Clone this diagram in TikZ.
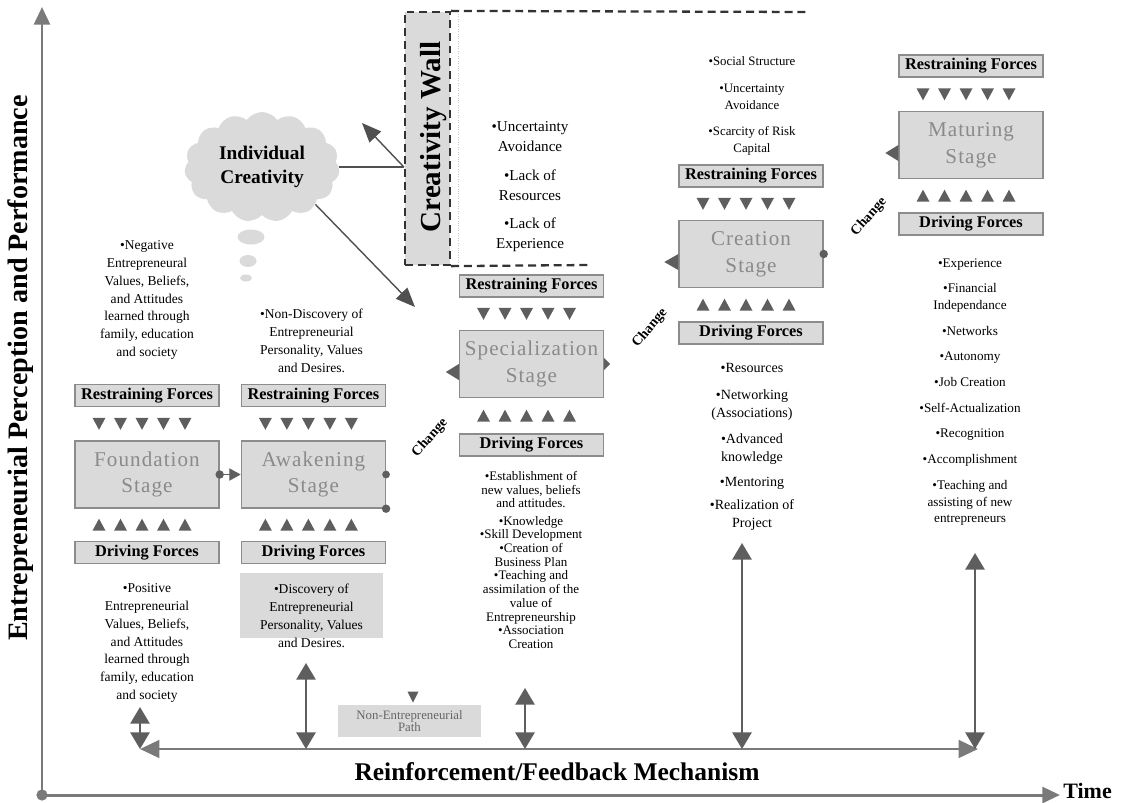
\documentclass[tikz,border=0pt]{standalone}
\usepackage{fontspec}
\setmainfont{Liberation Serif}
\newfontfamily\stagefont[LetterSpace=5]{Liberation Serif}
\usepackage{tikz}
\usetikzlibrary{positioning,arrows.meta,calc,shapes.symbols}
\usepackage{xcolor}
\definecolor{boxgray}{HTML}{DADADA}
\definecolor{edgegray}{HTML}{8C8C8C}
\definecolor{stagetext}{HTML}{8A8A8A}
\definecolor{tipgray}{HTML}{5E5E5E}
\definecolor{axisgray}{HTML}{7A7A7A}
\definecolor{darkline}{HTML}{505050}
\newcommand{\downrow}[2]{%
  \coordinate (rowmid) at ($(#1.south)!.5!(#2.north)$);
  \foreach \k in {-2,...,2}
    \fill[tipgray] ($(rowmid)+(\k*21.5-11.5,-6)$) -- ++(13,0) -- ++(-6.5,12) -- cycle;}
\newcommand{\uprow}[2]{%
  \coordinate (rowmid) at ($(#1.south)!.5!(#2.north)$);
  \foreach \k in {-2,...,2}
    \fill[tipgray] ($(rowmid)+(\k*21.5-11.5,6)$) -- ++(13,0) -- ++(-6.5,-12) -- cycle;}

\begin{document}
\begin{tikzpicture}[x=0.02cm,y=-0.02cm,every node/.style={inner sep=0pt},
  forcebox/.style={draw=edgegray,fill=boxgray,line width=0.8pt,minimum width=2.88cm,minimum height=0.44cm,font=\fontsize{9.3}{11}\selectfont\bfseries},
  stagebox/.style={draw=edgegray,fill=boxgray,line width=0.8pt,minimum width=2.88cm,minimum height=1.34cm,align=center,text=stagetext,font=\stagefont\fontsize{12}{15.3}\selectfont},
  note/.style={align=center,font=\fontsize{7.7}{10.2}\selectfont},
  changelabel/.style={font=\fontsize{8}{9}\selectfont\bfseries},
  pathbox/.style={fill=boxgray,minimum width=2.86cm,minimum height=0.64cm,align=center,text=black!60,font=\fontsize{7.3}{6.8}\selectfont},
  wallbox/.style={draw=black!80,fill=boxgray,line width=1.3pt,dash pattern=on 4.5pt off 2.8pt,minimum width=0.9cm,minimum height=5.06cm},
  wallline/.style={draw=black!80,line width=1.3pt,dash pattern=on 4.5pt off 2.8pt},
  dbl/.style={draw=tipgray,line width=1.1pt,arrows={Triangle[length=9.5pt,width=11pt]-Triangle[length=9.5pt,width=11pt]}},
  feedback/.style={draw=axisgray,line width=1.6pt,arrows={Triangle[length=11pt,width=10pt]-Triangle[length=11pt,width=10pt]}},
  axis/.style={draw=axisgray,line width=1.7pt,arrows={-Triangle[length=10pt,width=9pt]}},
  cloudarrow/.style={draw=darkline,line width=0.8pt,arrows={-Triangle[length=11pt,width=9pt]}},
  linkarrow/.style={draw=tipgray,line width=0.6pt,arrows={-Triangle[length=6.5pt,width=7pt]}}]
\useasboundingbox (0,0) rectangle (1121,802);

\coordinate (origin) at (42,795);
\coordinate (ytip) at (42,7);
\coordinate (xtip) at (1060,795);
\draw[axis] (origin) -- (ytip);
\draw[axis] (origin) -- (xtip);
\fill[axisgray] (origin) circle (3.2pt);
\node[font=\fontsize{16}{18}\selectfont\bfseries,rotate=90] (ylabel) at (21,368) {Entrepreneurial Perception and Performance};
\node[font=\fontsize{12.5}{14}\selectfont\bfseries,anchor=west] (timelabel) at (1063,791) {Time};

\node[wallbox] (wall) at (427.5,138.5) {};
\node[font=\fontsize{16.5}{18}\selectfont\bfseries,rotate=90] (walltext) at (434,137) {Creativity Wall};
\coordinate (walltopend) at (810,12);
\coordinate (wallbotend) at (588,265);
\draw[wallline] (wall.north east) -- (walltopend);
\draw[wallline] (wall.south east) -- (wallbotend);
\draw[gray!45,densely dotted,line width=0.4pt] ($(wall.north east)+(7,3)$) -- ($(wall.south east)+(7,-3)$);

\node[cloud,cloud puffs=15,cloud puff arc=110,aspect=1.4,fill=boxgray,minimum width=3.1cm,minimum height=2.2cm,align=center,font=\fontsize{11}{13.5}\selectfont\bfseries] (idea) at (262,167) {Individual\\Creativity};
\fill[boxgray] (251,237) ellipse [x radius=0.27cm,y radius=0.15cm];
\fill[boxgray] (248,261) ellipse [x radius=0.17cm,y radius=0.12cm];
\fill[boxgray] (246,278) ellipse [x radius=0.12cm,y radius=0.07cm];
\coordinate (bounce) at (idea.east -| wall.west);
\coordinate (bouncetip) at (362,123);
\coordinate (specin) at (415,307);
\draw[draw=darkline,line width=0.8pt] (idea.east) -- (bounce);
\draw[cloudarrow] (bounce) -- (bouncetip);
\draw[cloudarrow] (idea.-35) -- (specin);

\node[stagebox] (found) at (147,474.5) {Foundation\\Stage};
\node[forcebox,above=0.66cm of found] (foundres) {Restraining Forces};
\node[forcebox,below=0.64cm of found] (founddrv) {Driving Forces};
\downrow{foundres}{found}
\uprow{found}{founddrv}
\node[note] (foundneg) at (147,300) {•Negative\\Entrepreneural\\Values, Beliefs,\\and Attitudes\\learned through\\family, education\\and society};
\node[note] (foundpos) at (147,643) {•Positive\\Entrepreneurial\\Values, Beliefs,\\and Attitudes\\learned through\\family, education\\and society};

\node[stagebox,right=0.42cm of found] (awak) {Awakening\\Stage};
\node[forcebox,above=0.66cm of awak] (awakres) {Restraining Forces};
\node[forcebox,below=0.64cm of awak] (awakdrv) {Driving Forces};
\downrow{awakres}{awak}
\uprow{awak}{awakdrv}
\node[note] (awakneg) at (311.5,341) {•Non-Discovery of\\Entrepreneurial\\Personality, Values\\and Desires.};
\node[fill=boxgray,minimum width=2.86cm,minimum height=1.3cm] (discbg) at (311.5,605.5) {};
\node[note] (awakpos) at (311.5,616) {•Discovery of\\Entrepreneurial\\Personality, Values\\and Desires.};

\node[stagebox] (spec) at (531.5,364) {Specialization\\Stage};
\node[forcebox,above=0.64cm of spec] (specres) {Restraining Forces};
\node[forcebox,below=0.7cm of spec] (specdrv) {Driving Forces};
\downrow{specres}{spec}
\uprow{spec}{specdrv}
\node[note,font=\fontsize{8.6}{11.3}\selectfont] (specneg) at (530,187) {•Uncertainty\\Avoidance\\[5pt]•Lack of\\Resources\\[5pt]•Lack of\\Experience};
\node[note,font=\fontsize{7.4}{7.8}\selectfont] (specpos) at (531,560) {•Establishment of\\new values, beliefs\\and attitudes.\\[2pt]•Knowledge\\•Skill Development\\•Creation of\\Business Plan\\•Teaching and\\assimilation of the\\value of\\Entrepreneurship\\•Association\\Creation};

\node[stagebox] (creat) at (751,254) {Creation\\Stage};
\node[forcebox,above=0.64cm of creat] (creatres) {Restraining Forces};
\node[forcebox,below=0.66cm of creat] (creatdrv) {Driving Forces};
\downrow{creatres}{creat}
\uprow{creat}{creatdrv}
\node[note,font=\fontsize{7.3}{9.6}\selectfont] (creatneg) at (752,106) {•Social Structure\\[5.5pt]•Uncertainty\\Avoidance\\[5.5pt]•Scarcity of Risk\\Capital};
\node[note,font=\fontsize{8}{10.2}\selectfont] (creatpos) at (752,447) {•Resources\\[5pt]•Networking\\(Associations)\\[4.5pt]•Advanced\\knowledge\\[4pt]•Mentoring\\[3pt]•Realization of\\Project};

\node[stagebox] (matur) at (971,145) {Maturing\\Stage};
\node[forcebox,above=0.66cm of matur] (maturres) {Restraining Forces};
\node[forcebox,below=0.66cm of matur] (maturdrv) {Driving Forces};
\downrow{maturres}{matur}
\uprow{matur}{maturdrv}
\node[note,font=\fontsize{7.5}{9.6}\selectfont] (maturpos) at (970,392) {•Experience\\[5pt]•Financial\\Independance\\[5pt]•Networks\\[5pt]•Autonomy\\[5pt]•Job Creation\\[5pt]•Self-Actualization\\[5pt]•Recognition\\[5pt]•Accomplishment\\[5pt]•Teaching and\\assisting of new\\entrepreneurs};

\fill[tipgray] (found.east) circle (2.4pt);
\draw[linkarrow] (found.east) -- (awak.west);
\fill[tipgray] (awak.east) circle (2.2pt);
\fill[tipgray] (awak.south east) circle (2.4pt);
\fill[tipgray] (spec.west) -- ++(-13,8) -- ++(13,8) -- cycle;
\fill[tipgray] ($(spec.east)+(0,-6)$) -- ++(6,6) -- ++(-6,6) -- cycle;
\fill[tipgray] (creat.west) -- ++(-14,8) -- ++(14,8) -- cycle;
\fill[tipgray] (creat.east) circle (2.4pt);
\fill[tipgray] (matur.west) -- ++(-13,8) -- ++(13,8) -- cycle;
\node[changelabel,rotate=48] (change1) at (430,438) {Change};
\node[changelabel,rotate=50] (change2) at (650,328) {Change};
\node[changelabel,rotate=48] (change3) at (869,217) {Change};

\node[pathbox] (nonent) at (409.5,721) {Non-Entrepreneurial\\Path};
\fill[tipgray] ($(nonent.north)+(-2,-13)$) -- ++(11,0) -- ++(-5.5,11) -- cycle;

\coordinate (fbleft) at (140,749);
\coordinate (fbright) at (978,749);
\draw[feedback] (fbleft) -- (fbright);
\node[font=\fontsize{14.5}{16}\selectfont\bfseries] (fblabel) at (557,772) {Reinforcement/Feedback Mechanism};
\coordinate (foundtop) at (140,707);
\coordinate (awaktop) at (306,663);
\coordinate (spectop) at (525,688);
\coordinate (creattop) at (742,543);
\coordinate (maturtop) at (975,553);
\draw[dbl] (foundtop |- fbleft) -- (foundtop);
\draw[dbl] (awaktop |- fbleft) -- (awaktop);
\draw[dbl] (spectop |- fbleft) -- (spectop);
\draw[dbl] (creattop |- fbleft) -- (creattop);
\draw[dbl] (maturtop |- fbleft) -- (maturtop);
\end{tikzpicture}
\end{document}
